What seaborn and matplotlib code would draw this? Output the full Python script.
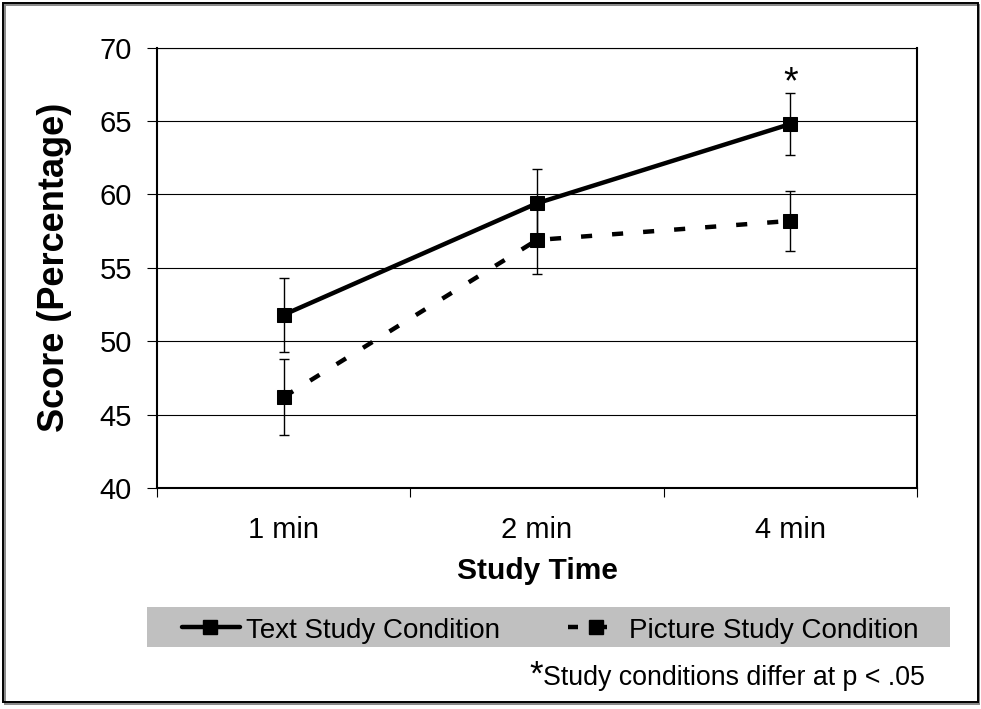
import matplotlib
matplotlib.use("Agg")
import matplotlib.pyplot as plt
import seaborn as sns
import pandas as pd
from matplotlib.lines import Line2D
from matplotlib.patches import Rectangle

# ---- data ----
study_times = ["1 min", "2 min", "4 min"]
text_scores = [51.8, 59.4, 64.8]
text_err = [2.5, 2.35, 2.1]
picture_scores = [46.2, 56.9, 58.2]
picture_err = [2.6, 2.3, 2.05]
conditions = ["Text Study Condition", "Picture Study Condition"]
y_ticks = [40, 45, 50, 55, 60, 65, 70]
sig_index = 2        # category with significant difference
sig_y = 66.9         # vertical position of the asterisk
footnote = "Study conditions differ at p < .05"

df = pd.DataFrame({
    "time": study_times * 2,
    "score": text_scores + picture_scores,
    "condition": [conditions[0]] * 3 + [conditions[1]] * 3,
})

sns.set_theme(style="white")
plt.rcParams["font.family"] = ["Liberation Sans", "DejaVu Sans"]
plt.rcParams["text.color"] = "black"
plt.rcParams["axes.labelcolor"] = "black"
plt.rcParams["xtick.color"] = "black"
plt.rcParams["ytick.color"] = "black"

W, H = 981, 709
fig = plt.figure(figsize=(W / 100, H / 100), dpi=100)
fig.patch.set_facecolor("white")

def fx(px):
    return px / W

def fy(py):
    return 1 - py / H

ax = fig.add_axes([fx(157), fy(488), fx(917) - fx(157), fy(47.7) - fy(488)])

# error bars first
ax.errorbar(study_times, text_scores, yerr=text_err, fmt="none", ecolor="black",
            elinewidth=1.0, capsize=3.6, capthick=1.0, zorder=2)
ax.errorbar(study_times, picture_scores, yerr=picture_err, fmt="none", ecolor="black",
            elinewidth=1.0, capsize=3.6, capthick=1.0, zorder=2)

sns.lineplot(data=df, x="time", y="score", hue="condition", style="condition",
             palette={conditions[0]: "black", conditions[1]: "black"},
             markers={conditions[0]: "s", conditions[1]: "s"},
             dashes={conditions[0]: "", conditions[1]: (2.5, 4.5)},
             linewidth=3.2, markersize=9.5, markeredgecolor="black",
             legend=False, ax=ax, zorder=3)

ax.set_xlim(-0.5, 2.5)
ax.set_ylim(40, 70)
ax.set_yticks(y_ticks)
ax.yaxis.grid(True, color="black", linewidth=0.8)
ax.xaxis.grid(False)

for s in ["left", "bottom", "right"]:
    ax.spines[s].set_color("black")
    ax.spines[s].set_linewidth(1.5)
ax.spines["top"].set_color("black")
ax.spines["top"].set_linewidth(0.8)

ax.tick_params(axis="y", which="major", direction="out", length=7.2, width=0.8,
               color="black", labelcolor="black", pad=10.8, labelsize=21, left=True)
ax.tick_params(axis="x", which="major", length=0, pad=20.5, labelsize=21,
               labelcolor="black")
ax.set_xticks([-0.5, 0.5, 1.5, 2.5], minor=True)
ax.tick_params(axis="x", which="minor", direction="out", length=6.5, width=0.8,
               color="black", bottom=True)

ax.set_xlabel("Study Time", fontsize=21.5, fontweight="bold", color="black")
ax.set_ylabel("Score (Percentage)", fontsize=26, fontweight="bold", color="black")
ax.xaxis.label.set_va("center")
ax.yaxis.label.set_va("center")
ax.xaxis.set_label_coords(0.5, (488 - 571) / 440.3)
ax.yaxis.set_label_coords((55 - 157) / 760, 0.5)

# significance asterisk
ax.text(sig_index, sig_y, "*", ha="center", va="baseline", fontsize=27, color="black")

# ---- legend band ----
fig.add_artist(Rectangle((fx(147), fy(647)), fx(950) - fx(147), fy(607) - fy(647),
                         transform=fig.transFigure, facecolor="#c0c0c0",
                         edgecolor="none", zorder=1))
ly = fy(627)
fig.add_artist(Line2D([fx(182), fx(240)], [ly, ly], transform=fig.transFigure,
                      color="black", linewidth=3.2, zorder=2))
fig.add_artist(Line2D([fx(210)], [ly], transform=fig.transFigure, color="black",
                      marker="s", markersize=9.5, linestyle="none", zorder=3))
fig.text(fx(246), fy(638), conditions[0], ha="left", va="baseline", fontsize=20,
         color="black", zorder=3)
fig.add_artist(Line2D([fx(568), fx(578)], [ly, ly], transform=fig.transFigure,
                      color="black", linewidth=3.2, solid_capstyle="butt", zorder=2))
fig.add_artist(Line2D([fx(590), fx(607)], [ly, ly], transform=fig.transFigure,
                      color="black", linewidth=3.2, solid_capstyle="butt", zorder=2))
fig.add_artist(Line2D([fx(596)], [ly], transform=fig.transFigure, color="black",
                      marker="s", markersize=9.5, linestyle="none", zorder=3))
fig.text(fx(629), fy(638), conditions[1], ha="left", va="baseline", fontsize=20,
         color="black", zorder=3)

# ---- footnote ----
ft = fig.text(fx(925), fy(685), footnote, ha="right", va="baseline", fontsize=19.3,
              color="black")
fig.canvas.draw()
bb = ft.get_window_extent()
fig.text(bb.x0 / W, fy(685), "*", ha="right", va="baseline", fontsize=25, color="black")

# ---- outer frame with shadow ----
fig.add_artist(Rectangle((fx(4.5), fy(703.5)), fx(979) - fx(4.5), fy(4.5) - fy(703.5),
                         transform=fig.transFigure, facecolor="none",
                         edgecolor="#888888", linewidth=1.4, zorder=0))
fig.add_artist(Rectangle((fx(2.5), fy(701.5)), fx(977.5) - fx(2.5), fy(2.5) - fy(701.5),
                         transform=fig.transFigure, facecolor="none",
                         edgecolor="black", linewidth=1.4, zorder=5))

fig.savefig("out.png", dpi=100, facecolor="white")
